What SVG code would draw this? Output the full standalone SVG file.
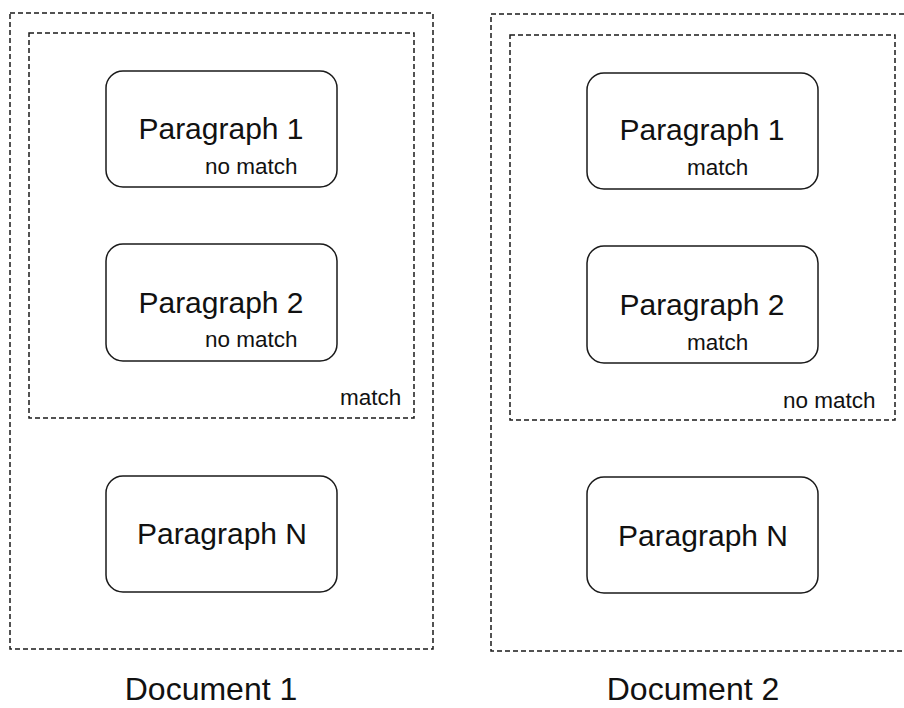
<svg xmlns="http://www.w3.org/2000/svg" width="904" height="708" viewBox="0 0 904 708">
  <style>
    .frame { fill: none; stroke: #1a1a1a; stroke-width: 1.5; stroke-dasharray: 5 3; }
    .para { fill: #ffffff; stroke: #1a1a1a; stroke-width: 1.5; }
    text { font-family: "Liberation Sans", Arial, Helvetica, sans-serif; fill: #111111; }
    .title { font-size: 30px; text-anchor: middle; }
    .note { font-size: 22.5px; }
    .doc { font-size: 32px; text-anchor: middle; }
  </style>
  <rect width="904" height="708" fill="#ffffff"/>

  <!-- Document 1 -->
  <g id="document-1">
    <rect class="frame" x="10" y="13" width="423" height="636"/>
    <text class="doc" x="211" y="700">Document 1</text>
  </g>
  <g id="doc1-group">
    <rect class="frame" x="29" y="33" width="385" height="385"/>
    <text class="note" x="340" y="405">match</text>
  </g>
  <g id="doc1-paragraph-1">
    <rect class="para" x="106" y="71" width="231" height="116" rx="17"/>
    <text class="title" x="221" y="139">Paragraph 1</text>
    <text class="note" x="205" y="174">no match</text>
  </g>
  <g id="doc1-paragraph-2">
    <rect class="para" x="106" y="244" width="231" height="117" rx="17"/>
    <text class="title" x="221" y="313">Paragraph 2</text>
    <text class="note" x="205" y="347">no match</text>
  </g>
  <g id="doc1-paragraph-n">
    <rect class="para" x="106" y="476" width="231" height="116" rx="17"/>
    <text class="title" x="222" y="544">Paragraph N</text>
  </g>

  <!-- Document 2 -->
  <g id="document-2">
    <rect class="frame" x="491" y="14" width="423" height="637"/>
    <text class="doc" x="693" y="700">Document 2</text>
  </g>
  <g id="doc2-group">
    <rect class="frame" x="510" y="35" width="385" height="385"/>
    <text class="note" x="783" y="408">no match</text>
  </g>
  <g id="doc2-paragraph-1">
    <rect class="para" x="587" y="73" width="231" height="116" rx="17"/>
    <text class="title" x="702" y="140">Paragraph 1</text>
    <text class="note" x="687" y="175">match</text>
  </g>
  <g id="doc2-paragraph-2">
    <rect class="para" x="587" y="246" width="231" height="117" rx="17"/>
    <text class="title" x="702" y="315">Paragraph 2</text>
    <text class="note" x="687" y="350">match</text>
  </g>
  <g id="doc2-paragraph-n">
    <rect class="para" x="587" y="477" width="231" height="116" rx="17"/>
    <text class="title" x="703" y="546">Paragraph N</text>
  </g>

  <g id="connectors"/>
</svg>
